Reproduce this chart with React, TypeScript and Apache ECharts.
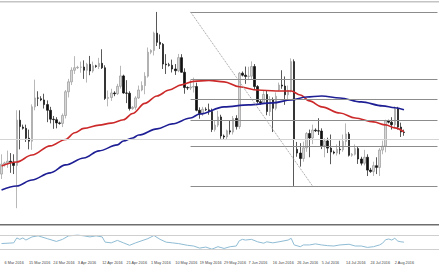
import React, { useEffect, useRef } from "react";
import * as echarts from "echarts";

// x tick labels (one every 8 bars, starting at bar 1)
const tickLabels = [
  "6 Mar 2016", "15 Mar 2016", "24 Mar 2016", "3 Apr 2016", "12 Apr 2016", "21 Apr 2016",
  "1 May 2016", "10 May 2016", "19 May 2016", "29 May 2016", "7 Jun 2016", "16 Jun 2016",
  "26 Jun 2016", "5 Jul 2016", "14 Jul 2016", "24 Jul 2016", "2 Aug 2016",
];

const opens = [
  1.0960, 1.1000, 1.1005, 1.1012, 1.1008, 1.0995, 1.1178, 1.1150, 1.1145, 1.1105,
  1.1093, 1.1232, 1.1268, 1.1265, 1.1260, 1.1241, 1.1218, 1.1182, 1.1180, 1.1167,
  1.1165, 1.1197, 1.1293, 1.1333, 1.1380, 1.1390, 1.1392, 1.1393, 1.1380, 1.1404,
  1.1377, 1.1398, 1.1395, 1.1408, 1.1390, 1.1266, 1.1270, 1.1288, 1.1285, 1.1315,
  1.1357, 1.1288, 1.1287, 1.1225, 1.1230, 1.1268, 1.1300, 1.1318, 1.1356, 1.1453,
  1.1460, 1.1530, 1.1493, 1.1485, 1.1405, 1.1402, 1.1400, 1.1385, 1.1378, 1.1431,
  1.1372, 1.1310, 1.1308, 1.1312, 1.1314, 1.1218, 1.1204, 1.1222, 1.1220, 1.1213,
  1.1140, 1.1158, 1.1191, 1.1114, 1.1110, 1.1135, 1.1130, 1.1185, 1.1152, 1.1368,
  1.1360, 1.1355, 1.1356, 1.1395, 1.1314, 1.1253, 1.1248, 1.1282, 1.1213, 1.1260,
  1.1226, 1.1300, 1.1320, 1.1316, 1.1281, 1.1298, 1.1415, 1.1060, 1.1045, 1.1023,
  1.1066, 1.1124, 1.1106, 1.1138, 1.1135, 1.1134, 1.1075, 1.1094, 1.1065, 1.1049,
  1.1045, 1.1060, 1.1058, 1.1092, 1.1122, 1.1036, 1.1040, 1.1063, 1.1021, 1.1004,
  1.1028, 1.0976, 1.0970, 1.0994, 1.0987, 1.1057, 1.1073, 1.1175, 1.1170, 1.1160,
  1.1224, 1.1150, 1.1130,
];
const highs = [
  1.1040, 1.1010, 1.1055, 1.1045, 1.1040, 1.1218, 1.1218, 1.1160, 1.1160, 1.1140,
  1.1242, 1.1342, 1.1295, 1.1275, 1.1285, 1.1258, 1.1232, 1.1195, 1.1190, 1.1172,
  1.1205, 1.1300, 1.1345, 1.1392, 1.1437, 1.1398, 1.1415, 1.1420, 1.1410, 1.1438,
  1.1415, 1.1402, 1.1430, 1.1465, 1.1400, 1.1298, 1.1305, 1.1295, 1.1325, 1.1398,
  1.1362, 1.1340, 1.1295, 1.1235, 1.1275, 1.1318, 1.1335, 1.1372, 1.1472, 1.1465,
  1.1536, 1.1616, 1.1525, 1.1490, 1.1445, 1.1410, 1.1423, 1.1405, 1.1446, 1.1445,
  1.1388, 1.1315, 1.1340, 1.1350, 1.1330, 1.1230, 1.1232, 1.1230, 1.1245, 1.1225,
  1.1175, 1.1216, 1.1200, 1.1120, 1.1140, 1.1177, 1.1195, 1.1198, 1.1373, 1.1375,
  1.1395, 1.1394, 1.1416, 1.1405, 1.1320, 1.1260, 1.1297, 1.1299, 1.1275, 1.1270,
  1.1290, 1.1330, 1.1380, 1.1355, 1.1318, 1.1428, 1.1424, 1.1090, 1.1085, 1.1091,
  1.1130, 1.1140, 1.1160, 1.1145, 1.1186, 1.1145, 1.1105, 1.1107, 1.1120, 1.1055,
  1.1080, 1.1095, 1.1120, 1.1165, 1.1130, 1.1045, 1.1080, 1.1070, 1.1030, 1.1058,
  1.1040, 1.0985, 1.1010, 1.1028, 1.1065, 1.1095, 1.1180, 1.1180, 1.1190, 1.1234,
  1.1232, 1.1168, 1.1140,
];
const lows = [
  1.0940, 1.0990, 1.0985, 1.0965, 1.0960, 1.0822, 1.1060, 1.1140, 1.1090, 1.1060,
  1.1058, 1.1218, 1.1235, 1.1255, 1.1225, 1.1170, 1.1165, 1.1143, 1.1145, 1.1160,
  1.1150, 1.1185, 1.1270, 1.1320, 1.1365, 1.1385, 1.1370, 1.1345, 1.1330, 1.1360,
  1.1370, 1.1390, 1.1385, 1.1385, 1.1260, 1.1234, 1.1256, 1.1275, 1.1280, 1.1306,
  1.1285, 1.1247, 1.1217, 1.1220, 1.1220, 1.1264, 1.1295, 1.1283, 1.1350, 1.1445,
  1.1440, 1.1478, 1.1466, 1.1385, 1.1365, 1.1395, 1.1371, 1.1361, 1.1372, 1.1370,
  1.1285, 1.1300, 1.1300, 1.1290, 1.1214, 1.1184, 1.1195, 1.1215, 1.1200, 1.1130,
  1.1132, 1.1150, 1.1103, 1.1100, 1.1098, 1.1120, 1.1120, 1.1140, 1.1142, 1.1355,
  1.1325, 1.1340, 1.1345, 1.1300, 1.1246, 1.1240, 1.1244, 1.1198, 1.1195, 1.1130,
  1.1218, 1.1295, 1.1305, 1.1240, 1.1261, 1.1290, 1.0912, 1.1030, 1.0990, 1.1010,
  1.1050, 1.1028, 1.1081, 1.1130, 1.1118, 1.1061, 1.1028, 1.1045, 1.1000, 1.1040,
  1.1035, 1.1040, 1.1050, 1.1075, 1.1031, 1.1030, 1.1035, 1.1001, 1.0995, 1.0995,
  1.0952, 1.0965, 1.0952, 1.0960, 1.0952, 1.1040, 1.1048, 1.1165, 1.1140, 1.1150,
  1.1140, 1.1110, 1.1115,
];
const closes = [
  1.1000, 1.1005, 1.1012, 1.1008, 1.0995, 1.1178, 1.1152, 1.1145, 1.1105, 1.1093,
  1.1232, 1.1268, 1.1267, 1.1260, 1.1241, 1.1218, 1.1182, 1.1180, 1.1167, 1.1165,
  1.1197, 1.1293, 1.1333, 1.1380, 1.1390, 1.1392, 1.1393, 1.1380, 1.1404, 1.1377,
  1.1398, 1.1395, 1.1408, 1.1390, 1.1266, 1.1270, 1.1288, 1.1285, 1.1315, 1.1357,
  1.1288, 1.1287, 1.1225, 1.1230, 1.1268, 1.1300, 1.1318, 1.1356, 1.1453, 1.1460,
  1.1530, 1.1493, 1.1485, 1.1405, 1.1402, 1.1400, 1.1385, 1.1378, 1.1431, 1.1372,
  1.1310, 1.1308, 1.1312, 1.1314, 1.1218, 1.1204, 1.1222, 1.1220, 1.1213, 1.1140,
  1.1158, 1.1191, 1.1114, 1.1110, 1.1135, 1.1130, 1.1185, 1.1152, 1.1368, 1.1360,
  1.1355, 1.1356, 1.1395, 1.1314, 1.1253, 1.1248, 1.1282, 1.1213, 1.1260, 1.1226,
  1.1275, 1.1320, 1.1316, 1.1281, 1.1298, 1.1415, 1.1100, 1.1045, 1.1023, 1.1066,
  1.1124, 1.1106, 1.1138, 1.1135, 1.1134, 1.1075, 1.1094, 1.1065, 1.1049, 1.1045,
  1.1060, 1.1058, 1.1092, 1.1122, 1.1036, 1.1040, 1.1063, 1.1021, 1.1004, 1.1028,
  1.0976, 1.0970, 1.0994, 1.0987, 1.1057, 1.1073, 1.1175, 1.1170, 1.1160, 1.1224,
  1.1150, 1.1130, 1.1128,
];

// moving averages: [bar index, value]
const redMA: [number, number][] = [
  [0, 1.0993], [5, 1.1009], [10, 1.1037], [16, 1.1074], [21, 1.1100], [24, 1.1127],
  [27, 1.1145], [32, 1.1158], [36, 1.1166], [40, 1.1180], [43, 1.1205], [47, 1.1246],
  [51, 1.1276], [55, 1.1300], [59, 1.1321], [63, 1.1335], [68, 1.1339], [73, 1.1333],
  [78, 1.1313], [84, 1.1300], [90, 1.1296], [95, 1.1296], [98, 1.1280],
  [101, 1.1256], [105, 1.1232], [111, 1.1207], [116, 1.1187], [122, 1.1171],
  [126, 1.1159], [129, 1.1147], [132, 1.1131],
];
const blueMA: [number, number][] = [
  [0, 1.0896], [5, 1.0912], [10, 1.0936], [16, 1.0965], [21, 1.0997], [27, 1.1025],
  [32, 1.1054], [38, 1.1078], [40, 1.1094], [43, 1.1106], [45, 1.1118], [51, 1.1143],
  [56, 1.1163], [62, 1.1187], [65, 1.1203], [73, 1.1232], [81, 1.1240], [89, 1.1248],
  [95, 1.1260], [100, 1.1272], [105, 1.1276], [111, 1.1268], [118, 1.1252],
  [125, 1.1236], [129, 1.1228], [132, 1.1220],
];

// oscillator in lower pane: [bar index, value]
const rsi: [number, number][] = [
  [0, 47], [4, 49], [5, 63], [6, 59], [7, 63], [8, 57], [10, 66], [12, 69], [15, 61],
  [18, 53], [20, 59], [22, 69], [25, 71], [27, 69], [29, 66], [31, 69], [33, 66],
  [34, 51], [36, 49], [38, 56], [40, 49], [42, 42], [44, 49], [48, 61], [50, 70],
  [52, 59], [54, 51], [56, 49], [58, 47], [61, 42], [63, 40], [65, 34], [67, 37],
  [69, 31], [71, 38], [73, 33], [75, 38], [77, 40], [78, 55], [79, 59], [80, 57],
  [82, 59], [84, 52], [86, 48], [87, 52], [89, 49], [91, 52], [94, 57], [95, 62],
  [96, 43], [98, 38], [99, 43], [101, 43], [103, 46], [105, 43], [107, 41], [109, 40],
  [111, 43], [114, 45], [116, 40], [118, 40], [120, 36], [122, 38], [124, 43],
  [125, 48], [126, 58], [127, 60], [128, 57], [129, 62], [130, 54], [131, 52], [132, 51],
];
const rsiLevels = [70, 30];

// Fibonacci retracement (100% .. 0%) and its anchor bars
const fibLevels = [1.1616, 1.1345, 1.1264, 1.1179, 1.1074, 1.0912];
const fibStartBar = 62;
const fibEndBar = 102;
const bidPrice = 1.1139;

const SLOTS = 144;

export default function App() {
  const ref = useRef<HTMLDivElement>(null);

  useEffect(() => {
    if (!ref.current) return;
    const chart = echarts.init(ref.current, null, { renderer: "svg" });
    const categories = Array.from({ length: SLOTS }, (_, i) => String(i));
    const labelAt = (idx: number): string | undefined =>
      (idx - 1) % 8 === 0 && idx >= 1 ? tickLabels[(idx - 1) / 8] : undefined;
    const candles = opens.map((o, i) => [o, closes[i], lows[i], highs[i]]);

    const fibLines: any[] = fibLevels.map((lv) => [
      { coord: [fibStartBar, lv], lineStyle: { color: "#8c8c8c", width: 1, type: "solid" } },
      { coord: [SLOTS - 1, lv] },
    ]);
    fibLines.push([
      { coord: [fibStartBar, fibLevels[0]], lineStyle: { color: "#9a9a9a", width: 1, type: "dotted" } },
      { coord: [fibEndBar, fibLevels[fibLevels.length - 1]] },
    ]);
    fibLines.push({ yAxis: bidPrice, lineStyle: { color: "#d4d4d4", width: 1, type: "solid" } });

    chart.setOption({
      animation: false,
      backgroundColor: "#ffffff",
      grid: [
        { left: 0, right: 0, top: 4, height: 220 },
        { left: 0, right: 0, top: 225, height: 35 },
      ],
      xAxis: [
        { type: "category", gridIndex: 0, data: categories, boundaryGap: true, show: false },
        {
          type: "category",
          gridIndex: 1,
          data: categories,
          boundaryGap: true,
          axisLine: { show: false },
          axisTick: { show: false },
          splitLine: { show: false },
          axisLabel: {
            interval: (idx: number) => labelAt(idx) !== undefined,
            formatter: (_v: string, idx: number) => labelAt(idx) ?? "",
            align: "left",
            margin: 1,
            fontSize: 3.8,
            color: "#444",
            fontFamily: "Liberation Sans",
          },
        },
      ],
      yAxis: [
        { type: "value", gridIndex: 0, min: 1.0758, max: 1.1648, show: false, splitLine: { show: false } },
        { type: "value", gridIndex: 1, min: 0, max: 100, show: false, splitLine: { show: false } },
      ],
      graphic: [
        { type: "rect", left: 0, top: 1, shape: { width: 439, height: 1.5 }, style: { fill: "#c4c4c4" }, silent: true },
        { type: "rect", left: 0, top: 224, shape: { width: 439, height: 1.4 }, style: { fill: "#6e6e6e" }, silent: true },
      ],
      series: [
        {
          type: "candlestick",
          xAxisIndex: 0,
          yAxisIndex: 0,
          data: candles,
          barWidth: 2,
          itemStyle: {
            color: "#d6d6d6",
            color0: "#111111",
            borderColor: "#9a9a9a",
            borderColor0: "#111111",
            borderWidth: 0.7,
          },
          markLine: {
            silent: true,
            symbol: "none",
            label: { show: false },
            data: fibLines,
          },
        },
        {
          type: "line",
          xAxisIndex: 0,
          yAxisIndex: 0,
          data: redMA,
          smooth: 0.35,
          smoothMonotone: "x",
          showSymbol: false,
          lineStyle: { color: "#cc2a2a", width: 1.6 },
        },
        {
          type: "line",
          xAxisIndex: 0,
          yAxisIndex: 0,
          data: blueMA,
          smooth: 0.35,
          smoothMonotone: "x",
          showSymbol: false,
          lineStyle: { color: "#1f1f95", width: 1.6 },
        },
        {
          type: "line",
          xAxisIndex: 1,
          yAxisIndex: 1,
          data: rsi,
          showSymbol: false,
          lineStyle: { color: "#8fbcd4", width: 1 },
          markLine: {
            silent: true,
            symbol: "none",
            label: { show: false },
            lineStyle: { color: "#cfcfcf", width: 1, type: "solid" },
            data: rsiLevels.map((v) => ({ yAxis: v })),
          },
        },
      ],
    });
    return () => chart.dispose();
  }, []);

  return (
    <div
      ref={ref}
      style={{ position: "fixed", left: 0, top: 0, width: 439, height: 268, background: "#fff" }}
    />
  );
}
